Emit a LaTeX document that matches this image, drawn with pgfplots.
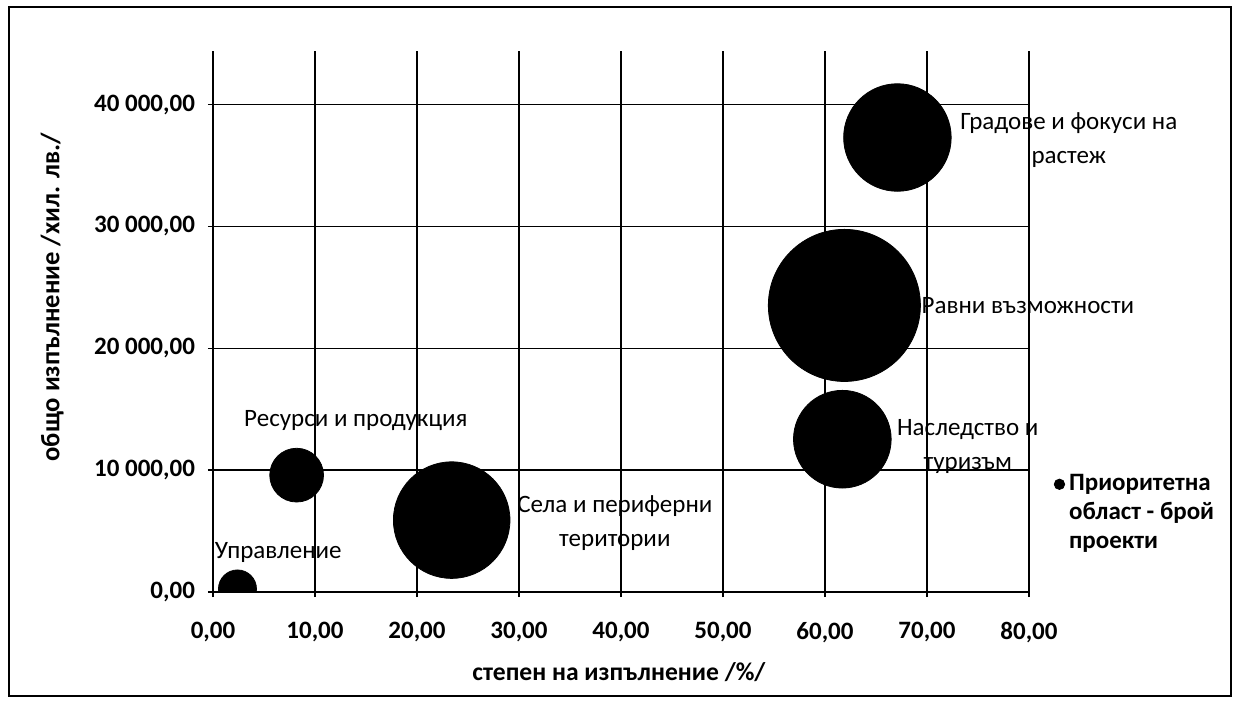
\documentclass[border=0pt]{standalone}
\usepackage{fontspec}
\setmainfont{Carlito}
\usepackage{pgfplots}
\pgfplotsset{compat=1.18}
\begin{document}
\begin{tikzpicture}
\begin{axis}[
  scale only axis,
  width=408pt, height=270.5pt,
  xmin=0, xmax=80, ymin=0, ymax=44400,
  xtick={0,10,...,80},
  ytick={0,10000,20000,30000,40000},
  scaled ticks=false,
  axis lines=left,
  axis line style={-, black, line width=0.7pt},
  grid=major,
  major grid style={black, line width=0.7pt},
  tick align=outside,
  tick style={black, line width=0.7pt},
  major tick length=2.5pt,
  /pgf/number format/.cd, fixed, fixed zerofill, precision=2, use comma, 1000 sep={\ }, assume math mode=true,
  /pgfplots/.cd,
  ticklabel style={font=\fontsize{12.5}{15}\selectfont\bfseries},
  yticklabel style={xshift=-3pt},
  xticklabel style={yshift=-9pt},
  xlabel={степен на изпълнение /\%/},
  ylabel={общо изпълнение /хил. лв./},
  xlabel style={font=\fontsize{12.8}{15}\selectfont\bfseries, at={(axis description cs:0.4975,-0.148)}, anchor=center},
  ylabel style={font=\fontsize{13.3}{16}\selectfont\bfseries, at={(axis description cs:-0.197,0.545)}, anchor=center},
  clip marker paths=true,
  bubble/.style={only marks, mark=*, mark options={draw=black, fill=black}, mark size={4.25*sqrt(#1)}},
  legend style={draw=none, fill=none, at={(1.03,0.225)}, anchor=north west,
    font=\fontsize{12.5}{14.5}\selectfont\bfseries, inner sep=0pt,
    cells={anchor=west, align=left}},
  legend image code/.code={\fill[black] (0.12cm,14.5pt) circle (2.6pt);},
]
% x = степен на изпълнение, y = общо изпълнение, bubble = брой проекти
\addplot[bubble=5]  coordinates {(2.4,250)};
\addlegendentry{Приоритетна\\област - брой\\проекти}
\addplot[bubble=10, forget plot] coordinates {(8.2,9590)};
\addplot[bubble=47, forget plot] coordinates {(23.4,5900)};
\addplot[bubble=33, forget plot] coordinates {(61.7,12540)};
\addplot[bubble=80, forget plot] coordinates {(61.9,23520)};
\addplot[bubble=40, forget plot] coordinates {(67.1,37300)};
\coordinate (lA) at (axis cs:83.9,37050);
\coordinate (lB) at (axis cs:79.9,23520);
\coordinate (lC) at (axis cs:74.0,11970);
\coordinate (lD) at (axis cs:39.4,5660);
\coordinate (lE) at (axis cs:14.0,14100);
\coordinate (lF) at (axis cs:6.4,3280);
\coordinate (m1) at (axis cs:0.1,0);
\coordinate (m2) at (axis cs:6,0);
\end{axis}
% keep the bubble cut at the x axis, as in the plot area of the original
\fill[white] ([yshift=-0.4pt]m1) rectangle ([yshift=-11pt]m2);
\begin{scope}[every node/.style={align=center, font=\fontsize{12.5}{17}\selectfont, inner sep=0pt}]
\node at (lA) {Градове и фокуси на\\растеж};
\node at (lB) {Равни възможности};
\node at (lC) {Наследство и\\туризъм};
\node at (lD) {Села и периферни\\територии};
\node at (lE) {Ресурси и продукция};
\node at (lF) {Управление};
\end{scope}
\pgfresetboundingbox
\path (-106.5pt,-55pt) rectangle (511.5pt,296pt);
\draw[line width=0.8pt] (-102pt,-52pt) rectangle (509pt,292.5pt);
\end{tikzpicture}
\end{document}
